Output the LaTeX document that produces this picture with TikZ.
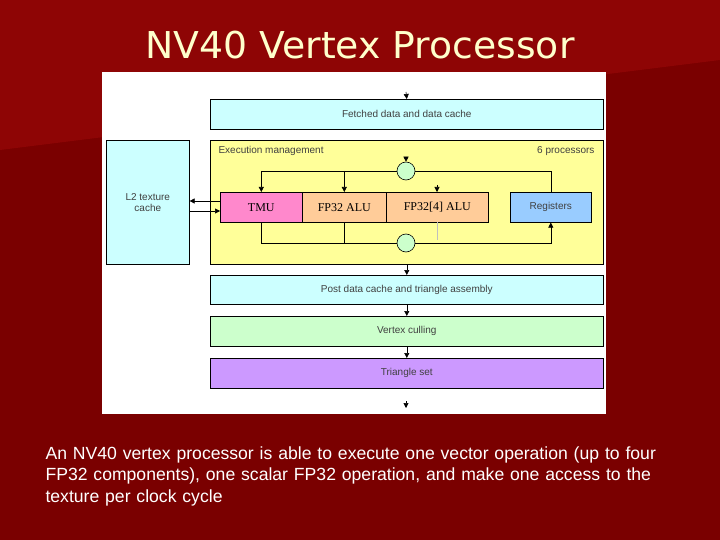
\documentclass[tikz,border=0pt]{standalone}
\usepackage{fontspec}
\setmainfont{Liberation Sans}
\newfontfamily\serifx{Liberation Serif}
\newfontfamily\titlef{DejaVu Sans}
\usetikzlibrary{arrows.meta}
\definecolor{bgred}{HTML}{7A0000}
\definecolor{bgtop}{HTML}{8E0505}
\definecolor{cyanb}{HTML}{CCFFFF}
\definecolor{yelb}{HTML}{FFFF99}
\definecolor{pinkb}{HTML}{FF88CC}
\definecolor{peachb}{HTML}{FFCC99}
\definecolor{blueb}{HTML}{99CCFF}
\definecolor{greenb}{HTML}{CCFFCC}
\definecolor{purpb}{HTML}{CC99FF}
\definecolor{titlec}{HTML}{FFFFCC}
\tikzset{
  box/.style={draw=black,line width=0.6pt,inner sep=0pt,font=\fontsize{10}{11}\selectfont,text=black!75},
  unit/.style={box,font=\serifx\fontsize{12}{13}\selectfont,text=black},
  circ/.style={circle,draw=black,fill=greenb,minimum size=18pt,inner sep=0pt,line width=0.6pt},
  arr/.style={-{Triangle[length=5pt,width=5pt]},line width=0.6pt},
  ln/.style={line width=0.6pt}
}
\begin{document}
\begin{tikzpicture}[x=1pt,y=-1pt]
\useasboundingbox (0,0) rectangle (720,540);
\fill[bgred] (0,0) rectangle (720,540);
\fill[bgtop] (0,0) -- (720,0) -- (720,60) -- (0,150) -- cycle;
\node[text=titlec,font=\titlef\fontsize{37}{40}\selectfont,xscale=1.02] (title) at (360,45) {NV40 Vertex Processor};
\fill[white] (102,72) rectangle (606,414);
% boxes
\node[box,fill=cyanb,minimum width=393pt,minimum height=30pt,anchor=north west] (fetch) at (210,99) {Fetched data and data cache};
\node[box,fill=yelb,minimum width=393pt,minimum height=124pt,anchor=north west] (exec) at (210,140) {};
\node[anchor=west,font=\fontsize{10}{11}\selectfont,text=black!75] (em) at (215,151) {Execution management};
\node[anchor=east,font=\fontsize{10}{11}\selectfont,text=black!75] (sp) at (598,151) {6 processors};
\node[box,fill=cyanb,minimum width=83pt,minimum height=124pt,anchor=north west,align=center] (l2) at (106,140) {L2 texture\\cache};
\node[unit,fill=pinkb,minimum width=82pt,minimum height=30pt,anchor=north west] (tmu) at (220,192) {TMU};
\node[unit,fill=peachb,minimum width=84pt,minimum height=30pt,anchor=north west] (alu) at (302,192) {FP32 ALU};
\node[unit,fill=peachb,minimum width=102pt,minimum height=30pt,anchor=north west] (alu4) at (386,192) {FP32[4] ALU};
\node[box,fill=blueb,minimum width=81pt,minimum height=30pt,anchor=north west] (reg) at (510,192) {Registers};
\node[circ] (c1) at (406,171) {};
\node[circ] (c2) at (406,243) {};
\node[box,fill=cyanb,minimum width=393pt,minimum height=29pt,anchor=north west] (post) at (210,275) {Post data cache and triangle assembly};
\node[box,fill=greenb,minimum width=393pt,minimum height=30pt,anchor=north west] (cull) at (210,316) {Vertex culling};
\node[box,fill=purpb,minimum width=393pt,minimum height=30pt,anchor=north west] (tri) at (210,358) {Triangle set};
\coordinate (in) at (406,92);
\coordinate (out) at (406,401);
\coordinate (c1in) at (406,158);
\coordinate (a4in) at (437,185);
\coordinate (t1) at (220,201);
\coordinate (t2) at (220,211);
% arrows
\draw[arr] (in) -- (fetch.north);
\draw[arr] (c1in) -- (c1.north);
\draw[arr] (a4in) -- (alu4.north -| a4in);
\draw[arr] (c1.west) -| (tmu.north);
\draw[arr] (alu.north |- c1.west) -- (alu.north);
\draw[ln] (c1.east) -| (reg.north);
\draw[ln] (tmu.south) |- (c2.west);
\draw[ln] (alu.south) -- (alu.south |- c2.west);
\draw[arr] (c2.east) -| (reg.south);
\draw[line width=0.4pt,black!25] (437,222) -- (437,240);
\draw[arr] (t1) -- (t1 -| l2.east);
\draw[arr] (t2 -| l2.east) -- (t2);
\draw[arr] (exec.south) -- (post.north);
\draw[arr] (post.south) -- (cull.north);
\draw[arr] (cull.south) -- (tri.north);
\draw[arr] (out) -- ++(0,7);
\node[anchor=north west,text=white,font=\fontsize{17.6}{21.5}\selectfont,align=left,text width=670pt] (cap) at (42,443) {An NV40 vertex processor is able to execute one vector operation (up to four\\FP32 components), one scalar FP32 operation, and make one access to the\\texture per clock cycle};
\end{tikzpicture}
\end{document}
